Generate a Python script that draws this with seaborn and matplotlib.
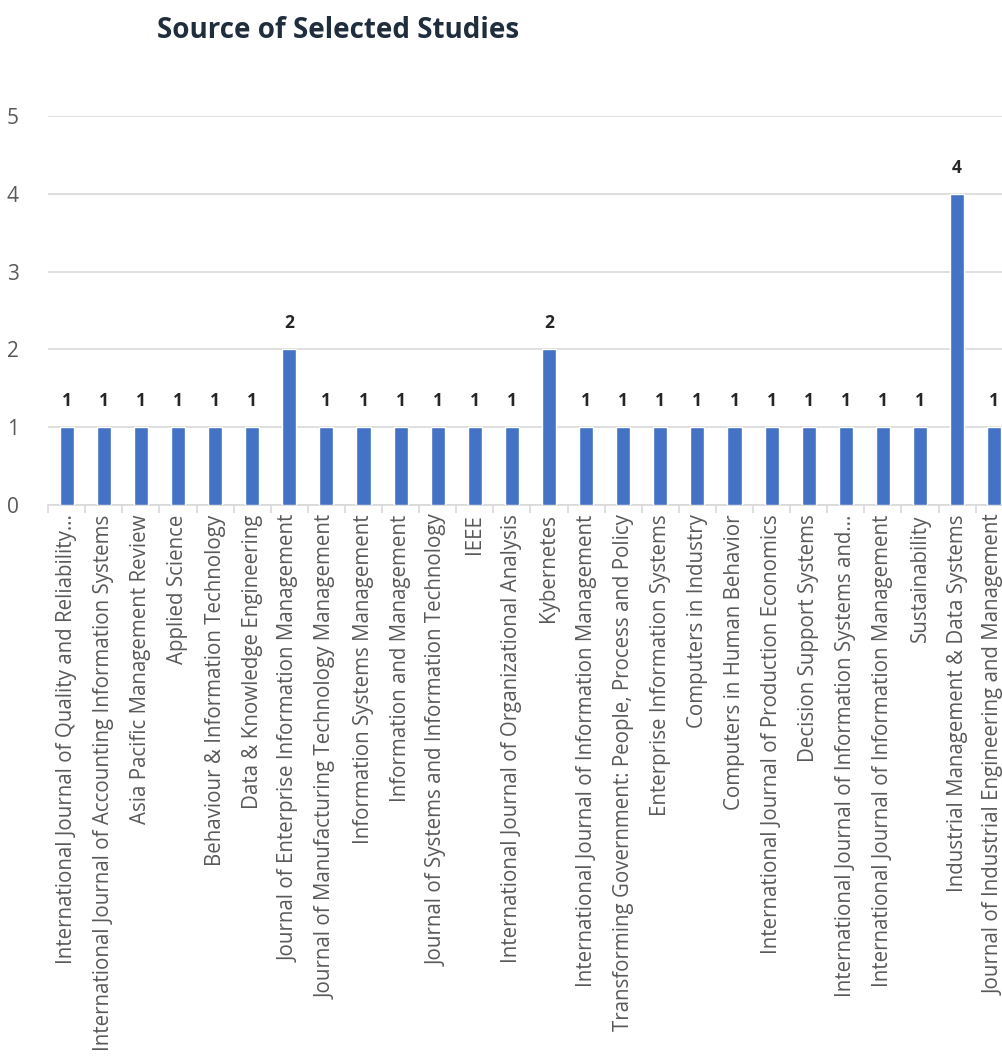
import matplotlib
matplotlib.use("Agg")
import matplotlib.pyplot as plt
import seaborn as sns
import pandas as pd

journals = [
    "International Journal of Quality and Reliability…",
    "International Journal of Accounting Information Systems",
    "Asia Pacific Management Review",
    "Applied Science",
    "Behaviour & Information Technology",
    "Data & Knowledge Engineering",
    "Journal of Enterprise Information Management",
    "Journal of Manufacturing Technology Management",
    "Information Systems Management",
    "Information and Management",
    "Journal of Systems and Information Technology",
    "IEEE",
    "International Journal of Organizational Analysis",
    "Kybernetes",
    "International Journal of Information Management",
    "Transforming Government: People, Process and Policy",
    "Enterprise Information Systems",
    "Computers in Industry",
    "Computers in Human Behavior",
    "International Journal of Production Economics",
    "Decision Support Systems",
    "International Journal of Information Systems and…",
    "International Journal of Information Management",
    "Sustainability",
    "Industrial Management & Data Systems",
    "Journal of Industrial Engineering and Management",
]
counts = [1, 1, 1, 1, 1, 1, 2, 1, 1, 1, 1, 1, 1, 2, 1, 1, 1, 1, 1, 1, 1, 1, 1, 1, 4, 1]

df = pd.DataFrame({"pos": range(len(journals)), "count": counts})

sns.set_theme(style="white")
plt.rcParams["font.family"] = ["Open Sans", "DejaVu Sans"]

fig = plt.figure(figsize=(10.02, 10.58), dpi=100)
ax = fig.add_axes([0.048, 0.523, 0.952, 0.367])

sns.barplot(data=df, x="pos", y="count", color="#4472C4", width=0.38,
            saturation=1, ax=ax, zorder=3)

for p, c in zip(df["pos"], df["count"]):
    ax.text(p, c + 0.22, str(c), ha="center", va="bottom", fontsize=12.5,
            fontweight="bold", color="#262626", zorder=4)

ax.set_yticks(range(0, 6))
ax.yaxis.grid(True, color="#d9d9d9", linewidth=1.2, zorder=0)
ax.set_axisbelow(True)

ax.set_xticks(range(len(journals)))
ax.set_xticklabels(journals, rotation=90, fontsize=14.8, color="#595959")
ax.set_xticks([i - 0.5 for i in range(len(journals) + 1)], minor=True)
ax.tick_params(axis="x", which="major", length=0, pad=7)
ax.tick_params(axis="x", which="minor", length=6, color="#d9d9d9", width=1.2, bottom=True)
ax.tick_params(axis="y", length=0, labelsize=15, labelcolor="#595959", pad=21)

# limits after ticks so the tick setters don't widen the view
ax.set_ylim(0, 5)
ax.set_xlim(-0.5, 25.21)

for side in ["left", "right", "top"]:
    ax.spines[side].set_visible(False)
ax.spines["bottom"].set_color("#d9d9d9")
ax.spines["bottom"].set_linewidth(1.2)

ax.set_xlabel("")
ax.set_ylabel("")

fig.text(0.337, 0.971, "Source of Selected Studies", ha="center", va="center",
         fontsize=20, fontweight="bold", color="#1f2d3d")

fig.savefig("out.png", dpi=100)
